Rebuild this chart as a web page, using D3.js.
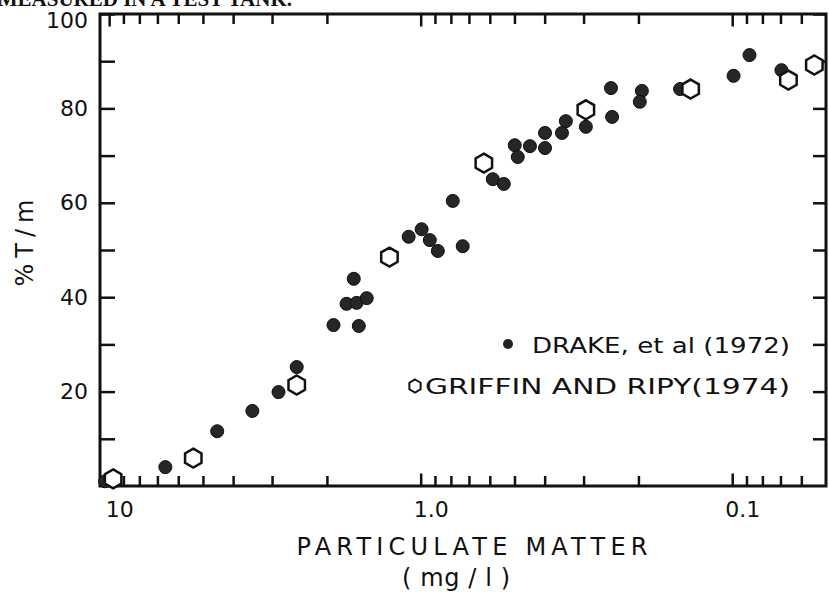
<!DOCTYPE html>
<html>
<head>
<meta charset="utf-8">
<script src="https://cdn.jsdelivr.net/npm/d3@7"></script>
<style>
  body { margin: 0; background: #fff; }
  text { font-family: "DejaVu Sans", sans-serif; fill: #111; }
</style>
</head>
<body>
<svg id="chart" width="829" height="592"></svg>
<script>
// Drake, et al (1972) - filled dots: [particulate mg/l, %T/m]
var drakeX = [10.3, 6.6, 4.5, 3.47, 2.86, 2.5, 1.905, 1.64, 1.73, 1.605, 1.49, 1.58,
  1.093, 0.993, 0.935, 0.881, 0.789, 0.733, 0.587, 0.541, 0.499, 0.488, 0.446,
  0.399, 0.399, 0.352, 0.342, 0.295, 0.245, 0.243, 0.195, 0.198, 0.147, 0.099,
  0.088, 0.0695];
var drakeY = [1.0, 4.0, 11.6, 15.9, 19.9, 25.2, 34.1, 43.9, 38.6, 38.8, 39.8, 33.9,
  52.8, 54.4, 52.1, 49.8, 60.4, 50.8, 65.0, 64.0, 72.2, 69.7, 72.0,
  74.8, 71.6, 74.8, 77.3, 76.1, 84.3, 78.2, 83.7, 81.4, 84.1, 86.9,
  91.3, 88.1];

// Griffin and Ripy (1974) - open hexagons
var griffinX = [9.71, 5.37, 2.5, 1.26, 0.627, 0.295, 0.136, 0.066, 0.0545];
var griffinY = [1.5, 5.9, 21.4, 48.5, 68.4, 79.7, 84.1, 86.0, 89.2];

var xTicks = [10, 9, 8, 7, 6, 5, 4, 3, 2, 1, 0.9, 0.8, 0.7, 0.6, 0.5, 0.4, 0.3, 0.2,
  0.1, 0.09, 0.08, 0.07, 0.06];
var xLabels = {10: "10", 1: "1.0", 0.1: "0.1"};
var yTicks = [10, 20, 30, 40, 50, 60, 70, 80, 90, 100];

var svg = d3.select('#chart');
var plotL = 100, plotR = 826, plotT = 14, plotB = 486;

var x = d3.scaleLog().domain([10.7, 0.05]).range([plotL, plotR]);
var y = d3.scaleLinear().domain([0, 100]).range([plotB, plotT]);

// caption cut off at the top of the page
svg.append('text')
    .attr('x', 292).attr('y', 6)
    .attr('text-anchor', 'end')
    .style('font-family', '"Liberation Serif", serif')
    .style('font-weight', 'bold')
    .style('font-size', '21px')
    .text('MEASURED IN A TEST TANK.');

// axes, ticks pointing inward
var gx = svg.append('g').attr('transform', 'translate(0,' + plotB + ')')
    .call(d3.axisBottom(x).tickValues(xTicks).tickSize(-10).tickPadding(15)
      .tickFormat(function(d) { return xLabels[d] || ''; }));
gx.selectAll('text').attr('dx', 10).style('font-size', '22px');

var gxTop = svg.append('g').attr('transform', 'translate(0,' + plotT + ')')
    .call(d3.axisTop(x).tickValues(xTicks).tickSize(-10).tickFormat(''));

var gy = svg.append('g').attr('transform', 'translate(' + plotL + ',0)')
    .call(d3.axisLeft(y).tickValues(yTicks).tickSize(-15).tickPadding(12)
      .tickFormat(function(d) { return d % 20 === 0 ? d : ''; }));
gy.selectAll('text').style('font-size', '22px')
    .attr('dy', function(d) { return d === 100 ? '0.6em' : '0.32em'; });

svg.append('g').attr('transform', 'translate(' + plotR + ',0)')
    .call(d3.axisRight(y).tickValues(yTicks).tickSize(-13).tickFormat(''));

svg.selectAll('.domain').remove();
svg.selectAll('.tick line').attr('stroke', '#111').attr('stroke-width', 2.5);
// decade ticks a bit longer
[gx, gxTop].forEach(function(g) {
  g.selectAll('.tick').filter(function(d) { return xLabels[d]; })
    .select('line').attr('y2', function() { return +d3.select(this).attr('y2') * 1.25; });
});

svg.append('rect')
    .attr('x', plotL).attr('y', plotT)
    .attr('width', plotR - plotL).attr('height', plotB - plotT)
    .attr('fill', 'none').attr('stroke', '#111').attr('stroke-width', 3);

// axis titles
svg.append('text')
    .attr('x', 472).attr('y', 555)
    .attr('text-anchor', 'middle')
    .attr('textLength', 351).attr('lengthAdjust', 'spacing')
    .style('font-size', '24px')
    .text('PARTICULATE MATTER');

svg.append('text')
    .attr('x', 456).attr('y', 586)
    .attr('text-anchor', 'middle')
    .attr('textLength', 108).attr('lengthAdjust', 'spacing')
    .style('font-size', '24px')
    .text('( mg / l )');

svg.append('text')
    .attr('transform', 'translate(33,243) rotate(-90)')
    .attr('text-anchor', 'middle')
    .attr('textLength', 87).attr('lengthAdjust', 'spacing')
    .style('font-size', '24px')
    .text('% T / m');

// hexagon path, pointy top
function hexPath(r) {
  var pts = d3.range(6).map(function(i) {
    var a = Math.PI / 3 * i - Math.PI / 2;
    return [r * Math.cos(a), r * Math.sin(a)];
  });
  return 'M' + pts.join('L') + 'Z';
}

// data
svg.append('g').selectAll('circle')
    .data(drakeX)
    .enter().append('circle')
    .attr('cx', function(d) { return x(d); })
    .attr('cy', function(d, i) { return y(drakeY[i]); })
    .attr('r', 6.5)
    .attr('fill', '#262626')
    .attr('stroke', '#0d0d0d')
    .attr('stroke-width', 1);

svg.append('g').selectAll('path')
    .data(griffinX)
    .enter().append('path')
    .attr('d', hexPath(9.5))
    .attr('transform', function(d, i) { return 'translate(' + x(d) + ',' + y(griffinY[i]) + ')'; })
    .attr('fill', '#fff')
    .attr('stroke', '#111')
    .attr('stroke-width', 2.5);

// legend
svg.append('circle').attr('cx', 508).attr('cy', 344).attr('r', 5).attr('fill', '#222');
svg.append('text')
    .attr('x', 532).attr('y', 353)
    .attr('textLength', 258).attr('lengthAdjust', 'spacingAndGlyphs')
    .style('font-size', '22px')
    .text('DRAKE, et al (1972)');

svg.append('path')
    .attr('d', hexPath(6.5))
    .attr('transform', 'translate(415,386)')
    .attr('fill', '#fff').attr('stroke', '#111').attr('stroke-width', 2);
svg.append('text')
    .attr('x', 425).attr('y', 394)
    .attr('textLength', 365).attr('lengthAdjust', 'spacingAndGlyphs')
    .style('font-size', '22px')
    .text('GRIFFIN AND RIPY(1974)');
</script>
</body>
</html>
